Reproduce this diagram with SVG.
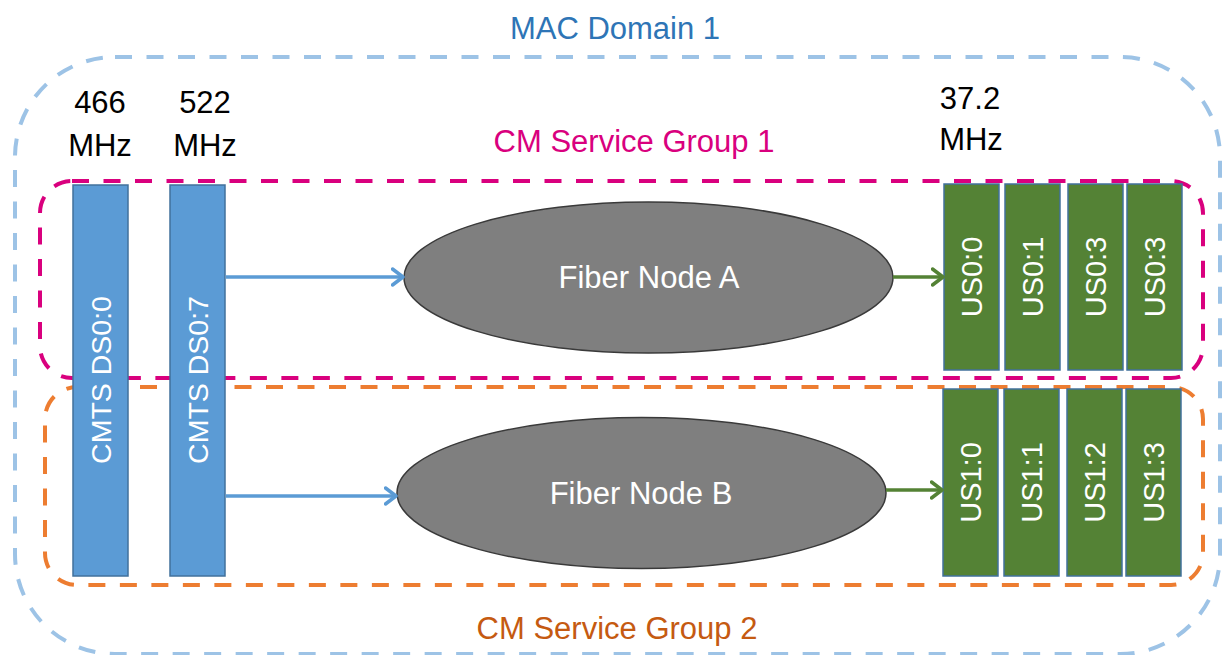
<svg xmlns="http://www.w3.org/2000/svg" width="1224" height="655" viewBox="0 0 1224 655">
<defs>
<style>
text{font-family:"Liberation Sans",Arial,sans-serif;}
.lbl{font-size:31px;fill:#000;text-anchor:middle;}
.wt{fill:#fff;text-anchor:middle;}
.ds{fill:#5B9BD5;stroke:#41719C;stroke-width:1.5;}
.us{fill:#548235;stroke:#41719C;stroke-width:1.5;}
.fn{fill:#7F7F7F;stroke:#3A3A3A;stroke-width:1.5;}
.grp{fill:none;stroke-width:4;stroke-dasharray:17 14.5;}
</style>
<marker id="ab" viewBox="0 0 14 20" refX="12.5" refY="10" markerWidth="14" markerHeight="20" markerUnits="userSpaceOnUse" orient="auto">
<path d="M2,2 L12.5,10 L2,18" fill="none" stroke="#5B9BD5" stroke-width="3.5" stroke-linecap="round" stroke-linejoin="round"/>
</marker>
<marker id="ag" viewBox="0 0 14 20" refX="12.5" refY="10" markerWidth="14" markerHeight="20" markerUnits="userSpaceOnUse" orient="auto">
<path d="M2,2 L12.5,10 L2,18" fill="none" stroke="#548235" stroke-width="3.5" stroke-linecap="round" stroke-linejoin="round"/>
</marker>
</defs>
<rect width="1224" height="655" fill="#fff"/>

<g id="mac-domain">
<rect class="grp" x="15" y="57" width="1205" height="597" rx="100" ry="100" stroke="#9DC3E6"/>
<text x="615" y="39" style="font-size:31px;fill:#2E75B6;text-anchor:middle">MAC Domain 1</text>
</g>

<g id="cm-sg1">
<rect class="grp" x="40" y="181" width="1163" height="197" rx="32" ry="32" stroke="#D9007E"/>
<text x="634" y="152" style="font-size:31px;fill:#D9007E;text-anchor:middle">CM Service Group 1</text>
</g>

<g id="cm-sg2">
<rect class="grp" x="45" y="387" width="1158" height="198" rx="32" ry="32" stroke="#ED7D31"/>
<text x="617" y="639" style="font-size:31px;fill:#C55A11;text-anchor:middle">CM Service Group 2</text>
</g>

<g id="freq-labels">
<text class="lbl" x="100" y="113">466</text>
<text class="lbl" x="100" y="156">MHz</text>
<text class="lbl" x="205" y="113">522</text>
<text class="lbl" x="205" y="156">MHz</text>
<text class="lbl" x="970" y="109">37.2</text>
<text class="lbl" x="971" y="150">MHz</text>
</g>

<g id="ds0-0">
<rect class="ds" x="73" y="185" width="55" height="391"/>
<text class="wt" transform="translate(110.5,380) rotate(-90)" style="font-size:28.5px">CMTS DS0:0</text>
</g>
<g id="ds0-7">
<rect class="ds" x="170" y="185" width="55" height="391"/>
<text class="wt" transform="translate(207.5,380) rotate(-90)" style="font-size:28.5px">CMTS DS0:7</text>
</g>

<g id="fiber-node-a">
<ellipse class="fn" cx="648.5" cy="277.5" rx="244.5" ry="75.5"/>
<text class="wt" x="649" y="288" style="font-size:31px">Fiber Node A</text>
</g>
<g id="fiber-node-b">
<ellipse class="fn" cx="641.5" cy="493" rx="244.5" ry="75.5"/>
<text class="wt" x="641" y="503.5" style="font-size:31px">Fiber Node B</text>
</g>

<g id="us0-0"><rect class="us" x="944" y="184" width="55" height="186"/><text class="wt" transform="translate(982,277) rotate(-90)" style="font-size:29px">US0:0</text></g>
<g id="us0-1"><rect class="us" x="1005" y="184" width="55" height="186"/><text class="wt" transform="translate(1043,277) rotate(-90)" style="font-size:29px">US0:1</text></g>
<g id="us0-3a"><rect class="us" x="1068" y="184" width="55" height="186"/><text class="wt" transform="translate(1106,277) rotate(-90)" style="font-size:29px">US0:3</text></g>
<g id="us0-3b"><rect class="us" x="1127" y="184" width="55" height="186"/><text class="wt" transform="translate(1165,277) rotate(-90)" style="font-size:29px">US0:3</text></g>

<g id="us1-0"><rect class="us" x="943" y="389" width="55" height="187"/><text class="wt" transform="translate(981,482.5) rotate(-90)" style="font-size:29px">US1:0</text></g>
<g id="us1-1"><rect class="us" x="1004" y="389" width="55" height="187"/><text class="wt" transform="translate(1042,482.5) rotate(-90)" style="font-size:29px">US1:1</text></g>
<g id="us1-2"><rect class="us" x="1067" y="389" width="55" height="187"/><text class="wt" transform="translate(1105,482.5) rotate(-90)" style="font-size:29px">US1:2</text></g>
<g id="us1-3"><rect class="us" x="1126" y="389" width="55" height="187"/><text class="wt" transform="translate(1164,482.5) rotate(-90)" style="font-size:29px">US1:3</text></g>

<g id="connectors" fill="none" stroke-width="3.5">
<line x1="226" y1="277" x2="403" y2="277" stroke="#5B9BD5" marker-end="url(#ab)"/>
<line x1="226" y1="496" x2="396" y2="496" stroke="#5B9BD5" marker-end="url(#ab)"/>
<line x1="893" y1="277" x2="943" y2="277" stroke="#548235" marker-end="url(#ag)"/>
<line x1="886" y1="490" x2="942" y2="490" stroke="#548235" marker-end="url(#ag)"/>
</g>
</svg>
